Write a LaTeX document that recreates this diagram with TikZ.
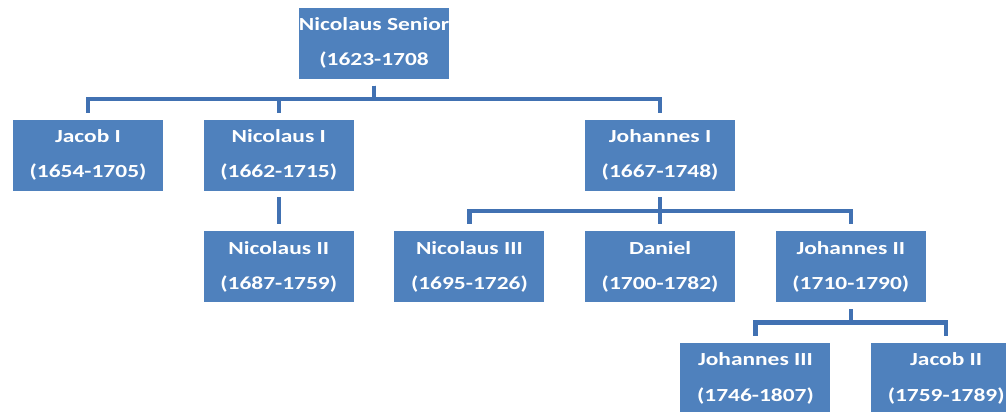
\documentclass[tikz,border=0pt]{standalone}
\usepackage{fontspec}
\setmainfont[FakeStretch=1.27]{Carlito}
\usepackage{xcolor}
\usepackage{tikz}
\usetikzlibrary{positioning, calc}
\definecolor{boxblue}{RGB}{79,129,189}
\definecolor{linkblue}{RGB}{65,113,178}

\begin{document}
\begin{tikzpicture}[
    person/.style={rectangle, fill=boxblue, text=white, inner sep=0pt,
      font=\fontsize{10.5}{20}\selectfont\bfseries,
      minimum width=3cm, minimum height=1.42cm, align=center},
    link/.style={draw=linkblue, line width=0.085cm,
      shorten <=0.13cm, shorten >=0.13cm},
    node distance=0.8cm
]
\clip (0,0) rectangle (20.12,-8.22);
\node[person] (jacob1) at (1.76,-3.1) {Jacob I\\(1654-1705)};
\node[person, right=of jacob1] (nic1)   {Nicolaus I\\(1662-1715)};
\node[person, below=of nic1]   (nic2)   {Nicolaus II\\(1687-1759)};
\node[person, right=of nic2]   (nic3)   {Nicolaus III\\(1695-1726)};
\node[person, right=of nic3]   (daniel) {Daniel\\(1700-1782)};
\node[person, right=of daniel] (joh2)   {Johannes II\\(1710-1790)};
\node[person, above=of daniel] (joh1)   {Johannes I\\(1667-1748)};
\coordinate (top) at ($(jacob1.north)!0.5!(joh1.north)$);
\node[person, above=of top]    (senior) {Nicolaus Senior\\(1623-1708};
\coordinate[below=of joh2] (split);
\node[person, below left=0cm and 0.4cm of split]  (joh3)   {Johannes III\\(1746-1807)};
\node[person, below right=0cm and 0.4cm of split] (jacob2) {Jacob II\\(1759-1789)};
\foreach \kid in {jacob1, nic1, joh1}
  \draw[link] (senior.south) -- ++(0,-0.4) -| (\kid.north);
\draw[link] (nic1) -- (nic2);
\foreach \kid in {nic3, daniel, joh2}
  \draw[link] (joh1.south) -- ++(0,-0.4) -| (\kid.north);
\foreach \kid in {joh3, jacob2}
  \draw[link] (joh2.south) -- ++(0,-0.4) -| (\kid.north);
\end{tikzpicture}
\end{document}
